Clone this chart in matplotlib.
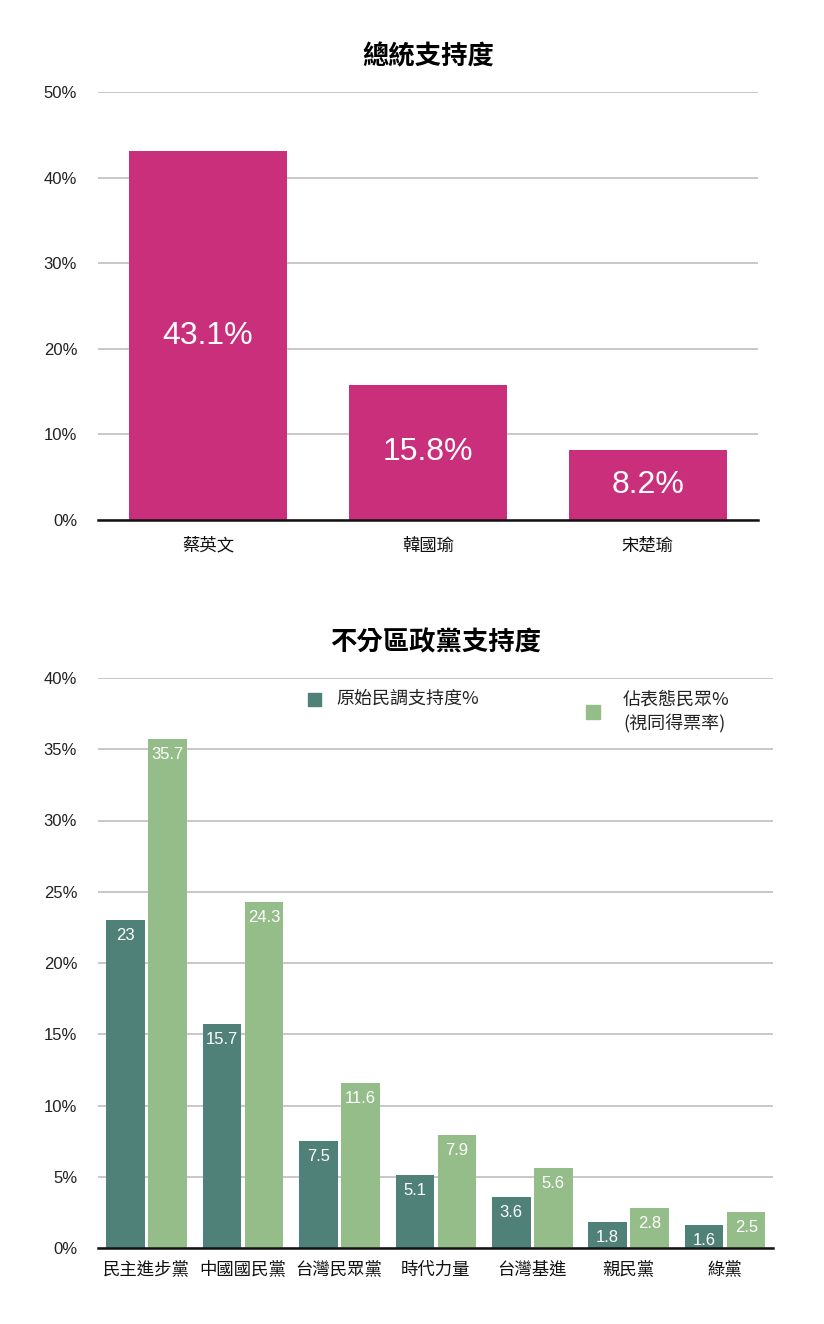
import numpy as np
import matplotlib
matplotlib.use('Agg')
import matplotlib.pyplot as plt
from matplotlib.patches import Rectangle

plt.rcParams['font.family'] = ['Liberation Sans', 'Noto Sans CJK TC', 'DejaVu Sans']
cjk = ['Noto Sans CJK TC', 'DejaVu Sans']

# 總統支持度
candidates = ['蔡英文', '韓國瑜', '宋楚瑜']
cand_support = [43.1, 15.8, 8.2]

# 不分區政黨支持度
parties = ['民主進步黨', '中國國民黨', '台灣民眾黨', '時代力量', '台灣基進', '親民黨', '綠黨']
raw_support = [23, 15.7, 7.5, 5.1, 3.6, 1.8, 1.6]
decided_share = [35.7, 24.3, 11.6, 7.9, 5.6, 2.8, 2.5]
legend_labels = ['原始民調支持度%', '佔表態民眾%\n(視同得票率)']

pink = '#C92F7A'
dark = '#4F8178'
light = '#95BD89'
grid_c = '#C4C4C4'

W, H = 824, 1324
fig = plt.figure(figsize=(W / 100, H / 100), dpi=100)

def px_axes(x0, y0, x1, y1):
    return fig.add_axes([x0 / W, 1 - y1 / H, (x1 - x0) / W, (y1 - y0) / H])

def style(ax, ymax, step):
    ax.set_ylim(0, ymax)
    ticks = np.arange(0, ymax + 0.1, step)
    ax.set_yticks(ticks)
    ax.set_yticklabels([f'{int(v)}%' for v in ticks])
    ax.grid(axis='y', color=grid_c, linewidth=1.3)
    ax.set_axisbelow(True)
    for s in ['left', 'right', 'top']:
        ax.spines[s].set_visible(False)
    ax.spines['bottom'].set_linewidth(1.8)
    ax.spines['bottom'].set_color('#111111')
    ax.tick_params(axis='y', length=0, pad=15, labelsize=12, labelcolor='#222222')
    ax.tick_params(axis='x', length=0, pad=9, labelcolor='#111111')

# top chart
ax1 = px_axes(98, 92, 758, 520)
x1 = np.arange(len(candidates))
ax1.bar(x1, cand_support, width=0.715, color=pink)
for xi, v in zip(x1, cand_support):
    ax1.text(xi, v / 2, f'{v}%', ha='center', va='center', color='white', fontsize=23)
ax1.set_xlim(-0.5, len(candidates) - 0.5)
style(ax1, 50, 10)
ax1.set_xticks(x1)
ax1.set_xticklabels(candidates, family=cjk, fontsize=12.5)
ax1.tick_params(axis='x', pad=12)
ax1.set_title('總統支持度', family=cjk, fontsize=19, fontweight='bold', pad=20)

# bottom chart
ax2 = px_axes(98, 678, 773, 1248)
x2 = np.arange(len(parties))
bw = 0.40
off_a, off_b = -0.214, 0.222
ax2.bar(x2 + off_a, raw_support, width=bw, color=dark)
ax2.bar(x2 + off_b, decided_share, width=bw, color=light)
for xi, a, b in zip(x2, raw_support, decided_share):
    ax2.text(xi + off_a, a - 0.55, f'{a:g}', ha='center', va='top', color='white', fontsize=12)
    ax2.text(xi + off_b, b - 0.55, f'{b:g}', ha='center', va='top', color='white', fontsize=12)
ax2.set_xlim(-0.5, len(parties) - 0.5)
style(ax2, 40, 5)
ax2.set_xticks(x2)
ax2.set_xticklabels(parties, family=cjk, fontsize=12.5)
ax2.set_title('不分區政黨支持度', family=cjk, fontsize=19, fontweight='bold', pad=20)

# legend drawn by hand to match layout
fig.patches.append(Rectangle((308 / W, 1 - 706 / H), 13 / W, 13 / H, color=dark, transform=fig.transFigure))
fig.text(336 / W, 1 - 699 / H, legend_labels[0], family=cjk, fontsize=13, va='center', color='#222222')
fig.patches.append(Rectangle((586 / W, 1 - 719 / H), 14 / W, 14 / H, color=light, transform=fig.transFigure))
fig.text(623 / W, 1 - 712 / H, legend_labels[1], family=cjk, fontsize=13, va='center',
         color='#222222', linespacing=1.35)

fig.savefig('out.png', dpi=100, facecolor='white')
